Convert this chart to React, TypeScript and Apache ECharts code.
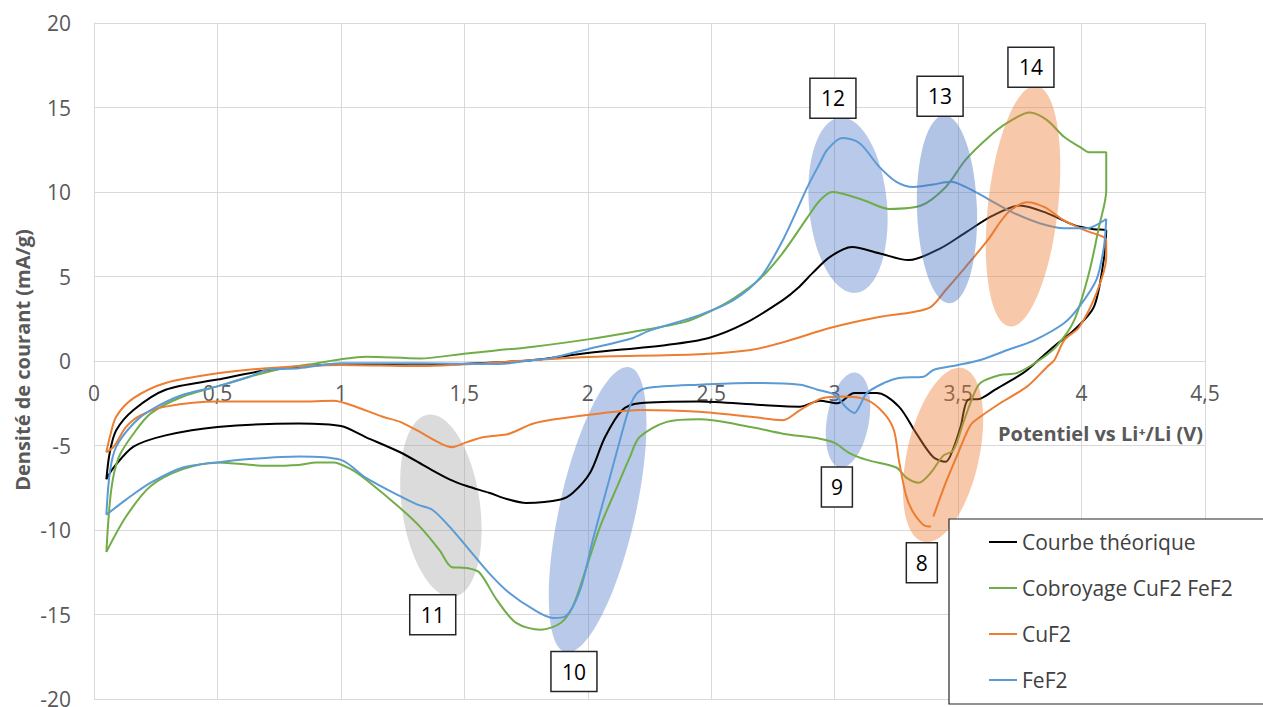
import React, { useEffect, useRef } from "react";
import * as echarts from "echarts";

// ---- Data (potential V, current density mA/g) ----
const xTicks = [0, 0.5, 1, 1.5, 2, 2.5, 3, 3.5, 4, 4.5];
const yTicks = [-20, -15, -10, -5, 0, 5, 10, 15, 20];

const seriesNames = ["Courbe théorique", "Cobroyage CuF2 FeF2", "CuF2", "FeF2"];

const theoAnodic = [
  [0.05, -7.0], [0.064, -5.4], [0.09, -4.1], [0.16, -2.9], [0.29, -1.7], [0.5, -1.1],
  [0.7, -0.55], [1.0, -0.2], [1.3, -0.25], [1.6, -0.1], [1.78, 0.06], [2.0, 0.47],
  [2.32, 0.95], [2.49, 1.36], [2.64, 2.25], [2.79, 3.6], [2.85, 4.3], [2.91, 5.2],
  [2.98, 6.15], [3.07, 6.74], [3.18, 6.38], [3.3, 5.97], [3.43, 6.68], [3.53, 7.6],
  [3.64, 8.6], [3.75, 9.2], [3.86, 8.75], [3.97, 8.04], [4.05, 7.8], [4.1, 7.74],
];
const theoCathodic = [
  [4.1, 7.74], [4.09, 6.0], [4.05, 3.2], [3.97, 1.83], [3.9, 1.0], [3.86, 0.5],
  [3.78, -0.53], [3.74, -0.93], [3.65, -1.7], [3.59, -2.23], [3.54, -2.3], [3.51, -3.9],
  [3.48, -5.2], [3.45, -5.96], [3.4, -5.7], [3.33, -4.27], [3.26, -2.7], [3.17, -1.9],
  [3.08, -1.9], [3.01, -2.5], [2.94, -2.35], [2.86, -2.7], [2.7, -2.6], [2.45, -2.4],
  [2.21, -2.5], [2.14, -2.9], [2.07, -4.5], [2.01, -6.6], [1.94, -7.8], [1.89, -8.2],
  [1.75, -8.4], [1.68, -8.2], [1.6, -7.8], [1.51, -7.4], [1.44, -7.0], [1.35, -6.3],
  [1.24, -5.4], [1.1, -4.5], [1.0, -3.85], [0.83, -3.7], [0.5, -3.9], [0.29, -4.4],
  [0.16, -5.07], [0.08, -6.3], [0.05, -7.0],
];

const cobroAnodic = [
  [0.05, -11.3], [0.07, -7.6], [0.1, -5.7], [0.16, -4.3], [0.23, -3.1], [0.36, -2.1],
  [0.5, -1.5], [0.63, -0.93], [0.77, -0.43], [0.9, -0.14], [1.0, 0.1], [1.1, 0.25],
  [1.32, 0.15], [1.51, 0.45], [1.78, 0.85], [2.0, 1.28], [2.18, 1.72], [2.39, 2.3],
  [2.49, 2.9], [2.59, 3.7], [2.7, 4.9], [2.79, 6.4], [2.89, 8.5], [2.94, 9.5],
  [2.99, 10.0], [3.12, 9.5], [3.22, 9.0], [3.35, 9.2], [3.45, 10.3], [3.53, 11.9],
  [3.62, 13.2], [3.7, 14.1], [3.79, 14.7], [3.86, 14.25], [3.93, 13.25], [4.0, 12.6],
  [4.03, 12.35], [4.1, 12.35],
];
const cobroCathodic = [
  [4.1, 12.35], [4.1, 10.1], [4.07, 7.9], [4.03, 5.2], [3.97, 2.4], [3.9, 0.9],
  [3.83, 0.06], [3.74, -0.7], [3.67, -0.83], [3.59, -1.3], [3.56, -2.1], [3.52, -3.7],
  [3.48, -5.3], [3.44, -5.6], [3.39, -6.6], [3.34, -7.2], [3.29, -6.9], [3.25, -6.3],
  [3.13, -5.85], [3.06, -5.45], [3.0, -4.85], [2.94, -4.6], [2.79, -4.3], [2.66, -3.9],
  [2.45, -3.45], [2.32, -3.6], [2.21, -4.5], [2.17, -5.7], [2.12, -7.4], [2.05, -9.8],
  [1.995, -12.2], [1.94, -14.5], [1.89, -15.5], [1.81, -15.9], [1.71, -15.5], [1.63, -14.1],
  [1.56, -12.5], [1.51, -12.25], [1.45, -12.2], [1.4, -11.2], [1.32, -9.8], [1.24, -8.7],
  [1.1, -7.0], [1.04, -6.4], [0.97, -6.0], [0.9, -6.0], [0.83, -6.15], [0.7, -6.2],
  [0.5, -6.0], [0.36, -6.4], [0.23, -7.4], [0.13, -9.2], [0.05, -11.3],
];

const cuf2Cathodic1 = [
  [3.39, -9.8], [3.36, -9.7], [3.32, -9.0], [3.29, -8.0], [3.26, -5.85], [3.24, -4.1],
  [3.2, -3.1], [3.13, -2.3], [3.03, -2.1], [2.95, -2.2], [2.86, -2.9], [2.79, -3.5],
  [2.66, -3.3], [2.45, -3.0], [2.21, -2.9], [2.05, -3.1], [1.89, -3.4], [1.78, -3.7],
  [1.7, -4.2], [1.67, -4.35], [1.58, -4.5], [1.51, -4.8], [1.45, -5.1], [1.4, -4.85],
  [1.32, -4.2], [1.24, -3.6], [1.17, -3.3], [1.04, -2.6], [0.97, -2.35], [0.83, -2.4],
  [0.5, -2.4], [0.29, -2.7], [0.19, -3.2], [0.13, -3.9], [0.08, -5.07], [0.05, -5.4],
];
const cuf2Anodic = [
  [0.064, -4.5], [0.09, -3.3], [0.16, -2.2], [0.29, -1.3], [0.5, -0.73], [0.7, -0.43],
  [1.0, -0.24], [1.32, -0.3], [1.78, 0.06], [2.0, 0.24], [2.45, 0.4], [2.66, 0.65],
  [2.79, 1.1], [2.98, 1.95], [3.18, 2.6], [3.32, 2.9], [3.39, 3.2], [3.45, 4.2],
  [3.53, 5.56], [3.62, 7.15], [3.7, 8.75], [3.78, 9.4], [3.85, 9.1], [3.93, 8.3],
  [4.02, 7.7], [4.1, 7.15],
];
const cuf2Cathodic2 = [
  [4.1, 6.15], [4.06, 4.0], [3.99, 2.0], [3.93, 1.24], [3.89, 0.06], [3.86, -0.35],
  [3.78, -1.5], [3.67, -2.5], [3.59, -3.3], [3.55, -3.8], [3.5, -5.45], [3.45, -7.2],
  [3.4, -9.2],
];

const fef2Anodic = [
  [0.05, -9.1], [0.064, -6.6], [0.09, -5.07], [0.16, -3.7], [0.23, -2.9], [0.36, -2.0],
  [0.5, -1.5], [0.63, -0.93], [0.7, -0.53], [0.83, -0.43], [1.0, -0.14], [1.32, -0.14],
  [1.64, -0.18], [1.78, 0.06], [1.85, 0.17], [2.0, 0.7], [2.18, 1.35], [2.25, 1.8],
  [2.45, 2.7], [2.59, 3.6], [2.7, 4.96], [2.79, 7.15], [2.89, 10.3], [2.94, 11.7],
  [2.97, 12.5], [3.03, 13.2], [3.1, 12.9], [3.18, 11.5], [3.25, 10.6], [3.32, 10.3],
  [3.4, 10.45], [3.47, 10.6], [3.53, 10.3], [3.62, 9.6], [3.72, 8.8], [3.83, 8.15],
  [3.93, 7.85], [4.02, 7.85], [4.1, 8.4],
];
const fef2Cathodic = [
  [4.1, 8.4], [4.09, 6.7], [4.06, 4.8], [3.99, 3.2], [3.93, 2.25], [3.81, 1.24],
  [3.7, 0.65], [3.59, 0.06], [3.5, -0.24], [3.4, -0.53], [3.36, -0.93], [3.26, -1.0],
  [3.2, -1.3], [3.13, -1.9], [3.1, -2.7], [3.08, -3.07], [3.05, -2.8], [3.0, -2.0],
  [2.93, -1.7], [2.86, -1.4], [2.66, -1.3], [2.45, -1.4], [2.24, -1.6], [2.2, -1.9],
  [2.17, -2.7], [2.13, -4.7], [2.08, -7.4], [2.02, -10.6], [1.97, -13.5], [1.91, -15.1],
  [1.86, -15.2], [1.78, -14.7], [1.68, -13.7], [1.6, -12.55], [1.51, -11.0], [1.44, -9.8],
  [1.37, -8.8], [1.31, -8.5], [1.24, -8.0], [1.1, -6.9], [1.0, -5.85], [0.83, -5.65],
  [0.63, -5.8], [0.5, -6.0], [0.36, -6.3], [0.23, -7.2], [0.13, -8.2], [0.05, -9.1],
];

// Annotation peak numbers and their anchor (data coordinates)
const peakLabels = ["8", "9", "10", "11", "12", "13", "14"];
const peakLabelAnchors = [
  [3.353, -11.94], [3.009, -7.45], [1.944, -18.38], [1.372, -15.01],
  [2.993, 15.54], [3.427, 15.66], [3.795, 17.38],
];
const highlightCenters = [
  [3.439, -5.56], [3.054, -3.49], [2.04, -8.8], [1.405, -8.57],
  [3.054, 9.22], [3.455, 8.98], [3.763, 9.16],
];

// ---- Layout / styles (kept apart from the data) ----
const FONT = '"Open Sans", "Noto Sans", sans-serif';
const COLORS = ["#000000", "#70ad47", "#ed7d31", "#5b9bd5"];
const GRID = { left: 94, right: 58, top: 23, bottom: 8 };
const CHART_H = 707;
const highlightStyle = [
  { rx: 36, ry: 89, rot: -0.22, fill: "rgba(237,125,49,0.42)", z: 6 },
  { rx: 21, ry: 48, rot: -0.17, fill: "rgba(68,114,196,0.38)", z: 1 },
  { rx: 38, ry: 146, rot: -0.22, fill: "rgba(68,114,196,0.38)", z: 1 },
  { rx: 39, ry: 92, rot: 0.14, fill: "rgba(160,160,160,0.38)", z: 1 },
  { rx: 39, ry: 88, rot: 0.09, fill: "rgba(68,114,196,0.38)", z: 1 },
  { rx: 30, ry: 94, rot: 0.03, fill: "rgba(68,114,196,0.42)", z: 6 },
  { rx: 35, ry: 121, rot: -0.11, fill: "rgba(237,125,49,0.42)", z: 6 },
];

export default function App() {
  const ref = useRef<HTMLDivElement>(null);

  useEffect(() => {
    if (!ref.current) return;
    const chart = echarts.init(ref.current, null, { renderer: "svg" });

    const seriesData = [
      [...theoAnodic, ...theoCathodic.slice(1)],
      [...cobroAnodic, ...cobroCathodic.slice(1)],
      [...cuf2Cathodic1, ...cuf2Anodic, ...cuf2Cathodic2],
      [...fef2Anodic, ...fef2Cathodic.slice(1)],
    ];

    const axisLabelStyle = { fontFamily: FONT, fontSize: 21, color: "#595959" };
    const yMin = yTicks[0];
    const yMax = yTicks[yTicks.length - 1];
    const plotH = CHART_H - GRID.top - GRID.bottom;
    // Position the x-axis at y = 0 (the axis crosses the value axis at zero)
    const zeroOffset = -plotH * ((0 - yMin) / (yMax - yMin));

    chart.setOption({
      animation: false,
      backgroundColor: "#ffffff",
      grid: { ...GRID, containLabel: false, outerBoundsMode: "none" },
      xAxis: {
        type: "value",
        min: xTicks[0],
        max: xTicks[xTicks.length - 1],
        interval: 0.5,
        position: "bottom",
        offset: zeroOffset,
        axisLine: { onZero: false, lineStyle: { color: "#d9d9d9", width: 1 } },
        axisTick: { show: false },
        axisLabel: {
          ...axisLabelStyle,
          margin: 21,
          interval: 0,
          showMinLabel: true,
          showMaxLabel: true,
          formatter: (v: number) => String(Math.round(v * 10) / 10).replace(".", ","),
        },
        splitLine: { show: true, lineStyle: { color: "#d9d9d9", width: 1 } },
      },
      yAxis: {
        type: "value",
        min: yMin,
        max: yMax,
        interval: 5,
        axisLine: { show: true, onZero: false, lineStyle: { color: "#d9d9d9", width: 1 } },
        axisTick: { show: false },
        axisLabel: { ...axisLabelStyle, margin: 23 },
        splitLine: { show: true, lineStyle: { color: "#d9d9d9", width: 1 } },
      },
      legend: {
        orient: "vertical",
        left: 984,
        top: 525,
        itemWidth: 28,
        itemHeight: 2,
        itemGap: 22,
        icon: "rect",
        data: seriesNames,
        textStyle: { fontFamily: FONT, fontSize: 21, color: "#404040", lineHeight: 24 },
        z: 8,
      },
      series: seriesNames.map((name, i) => ({
        name,
        type: "line",
        data: seriesData[i],
        showSymbol: false,
        symbol: "none",
        smooth: 0.3,
        color: COLORS[i],
        lineStyle: { color: COLORS[i], width: 2 },
        z: 2,
      })),
    });

    const toPx = (p: number[]) => chart.convertToPixel({ gridIndex: 0 }, p) as number[];

    const graphics: any[] = [];
    highlightCenters.forEach((c, i) => {
      const [px, py] = toPx(c);
      const s = highlightStyle[i];
      graphics.push({
        type: "ellipse",
        x: px,
        y: py,
        rotation: s.rot,
        shape: { cx: 0, cy: 0, rx: s.rx, ry: s.ry },
        style: { fill: s.fill },
        z: s.z,
        silent: true,
      });
    });
    peakLabels.forEach((t, i) => {
      const [px, py] = toPx(peakLabelAnchors[i]);
      const w = t.length > 1 ? 46 : 31;
      const h = 40;
      graphics.push({
        type: "rect",
        shape: { x: px - w / 2, y: py - h / 2, width: w, height: h },
        style: { fill: "#ffffff", stroke: "#262626", lineWidth: 1.5 },
        z: 9,
      });
      graphics.push({
        type: "text",
        x: px,
        y: py,
        style: {
          text: t,
          fill: "#000000",
          font: `21px ${FONT}`,
          align: "center",
          verticalAlign: "middle",
        },
        z: 10,
      });
    });
    // Legend frame
    graphics.push({
      type: "rect",
      shape: { x: 949, y: 519, width: 340, height: 185 },
      style: { fill: "#ffffff", stroke: "#262626", lineWidth: 1.2 },
      z: 7,
    });
    // Axis titles
    graphics.push({
      type: "text",
      x: 998,
      y: 433,
      style: {
        text: "Potentiel vs Li⁺/Li (V)",
        fill: "#595959",
        font: `bold 20px ${FONT}`,
        align: "left",
        verticalAlign: "middle",
      },
      z: 10,
    });
    graphics.push({
      type: "text",
      x: 22,
      y: 360,
      rotation: Math.PI / 2,
      style: {
        text: "Densité de courant (mA/g)",
        fill: "#595959",
        font: `bold 20px ${FONT}`,
        align: "center",
        verticalAlign: "middle",
      },
      z: 10,
    });

    chart.setOption({ graphic: graphics });

    return () => chart.dispose();
  }, []);

  return (
    <div
      ref={ref}
      style={{ position: "fixed", left: 0, top: 0, width: 1263, height: 707, background: "#fff" }}
    />
  );
}
